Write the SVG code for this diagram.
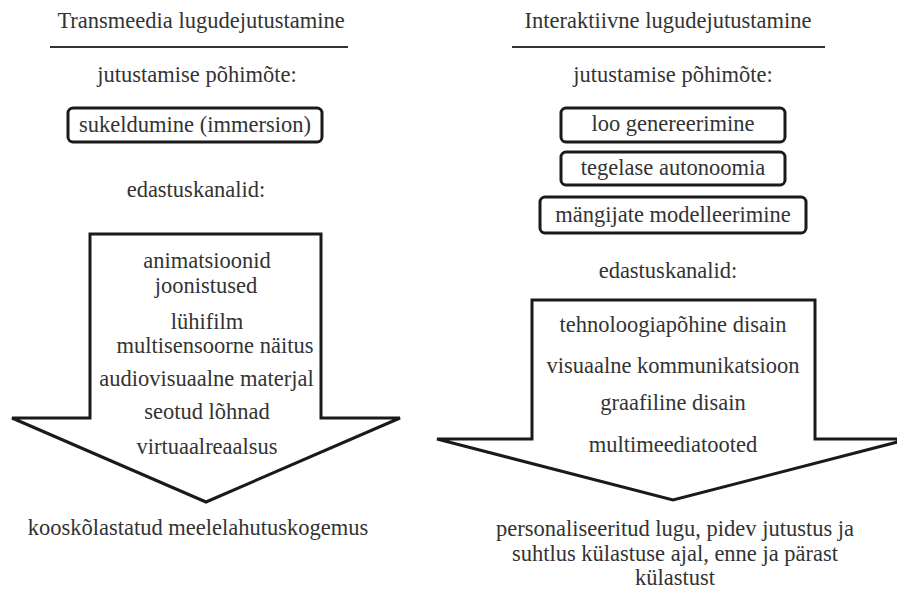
<svg xmlns="http://www.w3.org/2000/svg" width="897" height="591" viewBox="0 0 897 591">
  <style>
    text { font-family: "Liberation Serif", "Times New Roman", serif; font-size: 22.5px; fill: #333; text-anchor: middle; }
    .rule { stroke: #333; stroke-width: 2.2; }
    .box { fill: #fff; stroke: #1a1a1a; stroke-width: 3; }
    .arrow { fill: #fff; stroke: #1a1a1a; stroke-width: 3; stroke-linejoin: miter; }
  </style>
  <rect width="897" height="591" fill="#fff"/>

  <!-- Left column: transmedia storytelling -->
  <g id="left-title">
    <text x="201" y="28">Transmeedia lugudejutustamine</text>
    <line class="rule" x1="50" y1="47" x2="348" y2="47"/>
  </g>
  <g id="left-principle-label"><text x="197" y="82">jutustamise põhimõte:</text></g>
  <g id="left-principle">
    <rect class="box" x="68" y="108" width="254" height="34" rx="5"/>
    <text x="195" y="132">sukeldumine (immersion)</text>
  </g>
  <g id="left-channels-label"><text x="196" y="197">edastuskanalid:</text></g>

  <!-- Right column: interactive storytelling -->
  <g id="right-title">
    <text x="668" y="28">Interaktiivne lugudejutustamine</text>
    <line class="rule" x1="512" y1="47" x2="825" y2="47"/>
  </g>
  <g id="right-principle-label"><text x="673" y="82">jutustamise põhimõte:</text></g>
  <g id="right-principle-1">
    <rect class="box" x="561" y="108" width="224" height="34" rx="5"/>
    <text x="673" y="131">loo genereerimine</text>
  </g>
  <g id="right-principle-2">
    <rect class="box" x="561" y="152" width="224" height="33" rx="5"/>
    <text x="673" y="175">tegelase autonoomia</text>
  </g>
  <g id="right-principle-3">
    <rect class="box" x="540" y="197" width="266" height="36" rx="5"/>
    <text x="673" y="222">mängijate modelleerimine</text>
  </g>
  <g id="right-channels-label"><text x="668" y="278">edastuskanalid:</text></g>

  <!-- Block arrows carrying the delivery channels -->
  <g id="connectors">
    <path id="left-arrow" class="arrow" d="M90,234 H321 V418 H400 L206,502 L12,418 H90 Z"/>
    <path id="right-arrow" class="arrow" d="M532,300 H815 V439 H909 L673,500 L437,439 H532 Z"/>
  </g>

  <g id="left-channels">
    <text x="207" y="268">animatsioonid</text>
    <text x="206" y="293">joonistused</text>
    <text x="207" y="329">lühifilm</text>
    <text x="215" y="353">multisensoorne näitus</text>
    <text x="206.5" y="386">audiovisuaalne materjal</text>
    <text x="207" y="419">seotud lõhnad</text>
    <text x="207" y="454">virtuaalreaalsus</text>
  </g>
  <g id="right-channels">
    <text x="673" y="332">tehnoloogiapõhine disain</text>
    <text x="673" y="373">visuaalne kommunikatsioon</text>
    <text x="673" y="410">graafiline disain</text>
    <text x="673" y="452">multimeediatooted</text>
  </g>

  <!-- Outcomes -->
  <g id="left-outcome"><text x="198" y="535">kooskõlastatud meelelahutuskogemus</text></g>
  <g id="right-outcome">
    <text x="675" y="536">personaliseeritud lugu, pidev jutustus ja</text>
    <text x="675" y="561">suhtlus külastuse ajal, enne ja pärast</text>
    <text x="675" y="585">külastust</text>
  </g>
</svg>
